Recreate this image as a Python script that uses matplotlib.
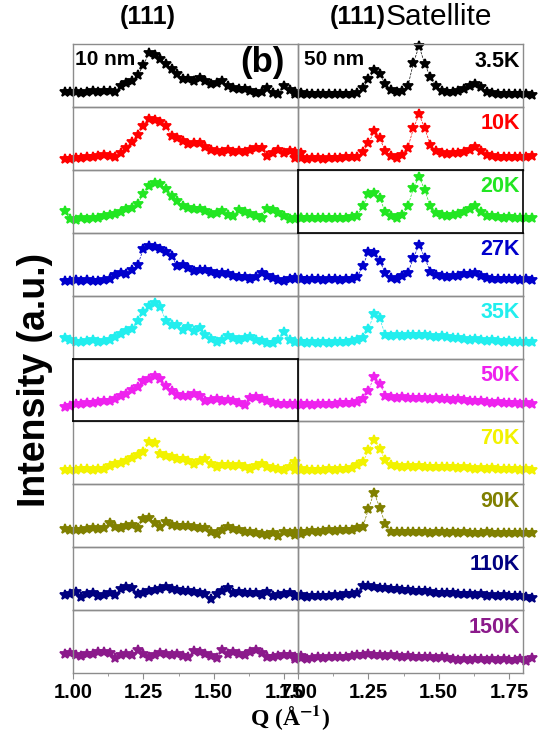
import matplotlib.pyplot as plt
from matplotlib.ticker import MultipleLocator, FormatStrFormatter

plt.rcParams['font.family'] = ['Liberation Sans', 'DejaVu Sans']
plt.rcParams['mathtext.fontset'] = 'stix'

temps = ['3.5K', '10K', '20K', '27K', '35K', '50K', '70K', '90K', '110K', '150K']
colors = ['#000000', '#ff0000', '#22e622', '#0000cc', '#22eeee',
          '#ee22ee', '#f2f200', '#808000', '#000080', '#8b1a8b']

# Q grid (1/A) for the 10 nm and 50 nm samples
q_left = [0.97, 0.99, 1.01, 1.03, 1.05, 1.07, 1.09, 1.11, 1.13, 1.15, 1.17,
          1.19, 1.21, 1.23, 1.25, 1.27, 1.29, 1.31, 1.33, 1.35, 1.37, 1.39,
          1.41, 1.43, 1.45, 1.47, 1.49, 1.51, 1.53, 1.55, 1.57, 1.59, 1.61,
          1.63, 1.65, 1.67, 1.69, 1.71, 1.73, 1.75, 1.77, 1.79, 1.81]
q_right = [0.99, 1.01, 1.03, 1.05, 1.07, 1.09, 1.11, 1.13, 1.15, 1.17, 1.19,
           1.21, 1.23, 1.25, 1.27, 1.29, 1.31, 1.33, 1.35, 1.37, 1.39, 1.41,
           1.43, 1.45, 1.47, 1.49, 1.51, 1.53, 1.55, 1.57, 1.59, 1.61, 1.63,
           1.65, 1.67, 1.69, 1.71, 1.73, 1.75, 1.77, 1.79, 1.81, 1.83]

# (111) intensities, 10 nm film (normalised per panel)
nm10_3p5K = [.23, .23, .23, .22, .24, .26, .24, .26, .25, .23, .33, .38, .42, .50, .66, .86, .82, .76, .68, .60, .52, .45,
             .44, .42, .46, .42, .36, .38, .41, .34, .30, .29, .28, .26, .22, .24, .30, .22, .21, .33, .27, .23, .22]
nm10_10K = [.18, .18, .19, .19, .20, .21, .22, .23, .22, .20, .27, .35, .44, .55, .70, .81, .80, .76, .70, .53, .50, .46,
            .41, .42, .42, .36, .32, .30, .29, .32, .29, .30, .29, .32, .34, .35, .22, .26, .31, .27, .30, .28, .27]
nm10_20K = [.34, .22, .21, .23, .22, .24, .23, .26, .28, .30, .33, .37, .40, .46, .62, .75, .79, .77, .70, .58, .50, .43,
            .39, .37, .37, .35, .30, .32, .34, .28, .27, .36, .33, .29, .26, .24, .37, .36, .32, .26, .22, .22, .23]
nm10_27K = [.24, .24, .25, .24, .25, .23, .24, .25, .26, .33, .36, .34, .40, .49, .74, .79, .77, .74, .70, .63, .47, .49,
            .44, .39, .40, .41, .38, .34, .36, .34, .32, .30, .29, .26, .30, .36, .32, .28, .25, .24, .27, .28, .27]
nm10_35K = [.32, .29, .27, .26, .28, .29, .27, .28, .30, .35, .39, .43, .47, .60, .74, .83, .89, .82, .60, .54, .53, .46,
            .50, .44, .48, .38, .31, .27, .30, .36, .33, .30, .32, .34, .30, .28, .25, .24, .30, .42, .30, .27, .26]
nm10_50K = [.23, .25, .27, .28, .29, .29, .31, .32, .33, .35, .40, .44, .50, .54, .64, .67, .73, .67, .56, .49, .42, .40,
            .41, .44, .40, .33, .34, .35, .33, .34, .32, .30, .26, .37, .39, .36, .32, .29, .27, .28, .27, .28, .28]
nm10_70K = [.22, .22, .23, .24, .24, .23, .24, .25, .29, .32, .34, .37, .42, .47, .51, .67, .66, .48, .45, .43, .41, .40,
            .37, .32, .37, .40, .33, .27, .30, .31, .29, .30, .27, .24, .29, .32, .28, .26, .25, .23, .28, .35, .24]
nm10_90K = [.29, .27, .28, .27, .29, .30, .29, .31, .39, .32, .30, .34, .35, .31, .45, .46, .38, .32, .40, .35, .34, .33,
            .33, .32, .31, .30, .25, .21, .28, .32, .29, .27, .25, .24, .22, .21, .19, .23, .18, .25, .22, .20, .21]
nm10_110K = [.24, .25, .29, .21, .26, .28, .22, .24, .27, .24, .33, .37, .35, .25, .28, .30, .32, .34, .36, .33, .32, .30,
             .31, .29, .28, .25, .18, .26, .30, .35, .27, .29, .28, .27, .28, .24, .29, .22, .24, .25, .27, .23, .24]
nm10_150K = [.31, .32, .29, .27, .30, .31, .33, .34, .32, .24, .28, .30, .29, .37, .31, .26, .29, .32, .31, .29, .30, .27,
             .25, .35, .33, .30, .27, .24, .36, .31, .33, .30, .28, .34, .37, .32, .26, .25, .27, .29, .28, .25, .27]

# (111) + satellite intensities, 50 nm film
nm50_3p5K = [.21, .21, .20, .21, .21, .20, .21, .21, .20, .21, .21, .22, .30, .44, .58, .52, .36, .27, .24, .25, .33, .70,
             .97, .68, .48, .33, .25, .23, .24, .26, .28, .33, .37, .31, .24, .22, .21, .21, .20, .21, .20, .21, .19]
nm50_10K = [.19, .19, .18, .19, .19, .18, .19, .19, .19, .20, .20, .21, .28, .42, .61, .50, .30, .22, .19, .24, .35, .66,
            .88, .66, .40, .30, .27, .25, .26, .27, .29, .31, .37, .30, .24, .22, .21, .20, .21, .20, .21, .20, .22]
nm50_20K = [.24, .23, .24, .23, .24, .23, .24, .24, .23, .24, .25, .27, .42, .62, .63, .55, .33, .26, .24, .28, .42, .71,
            .89, .68, .42, .32, .28, .27, .28, .30, .33, .37, .42, .33, .27, .26, .25, .24, .25, .24, .23, .24, .23]
nm50_27K = [.26, .26, .25, .26, .26, .25, .26, .26, .25, .26, .27, .29, .47, .70, .68, .55, .36, .28, .27, .32, .36, .60,
            .81, .60, .38, .33, .31, .30, .31, .32, .34, .35, .36, .31, .28, .27, .26, .27, .26, .26, .25, .26, .25]
nm50_35K = [.27, .26, .25, .26, .25, .26, .25, .26, .26, .27, .28, .29, .33, .47, .71, .64, .37, .36, .37, .36, .37, .38,
            .37, .38, .36, .35, .36, .34, .33, .32, .31, .30, .31, .29, .28, .29, .28, .27, .28, .27, .26, .27, .26]
nm50_50K = [.26, .26, .27, .26, .27, .28, .27, .28, .29, .29, .30, .31, .35, .49, .71, .60, .41, .39, .38, .39, .38, .37,
            .38, .37, .36, .37, .36, .35, .34, .35, .34, .33, .32, .33, .31, .30, .31, .29, .30, .29, .28, .29, .28]
nm50_70K = [.22, .23, .22, .23, .22, .23, .24, .23, .24, .25, .26, .30, .35, .54, .70, .56, .38, .31, .29, .28, .29, .28,
            .29, .28, .27, .28, .27, .28, .27, .26, .27, .26, .25, .26, .25, .26, .25, .24, .25, .24, .23, .24, .22]
nm50_90K = [.24, .25, .25, .26, .25, .26, .27, .26, .28, .27, .28, .31, .32, .61, .87, .63, .37, .24, .25, .24, .25, .24,
            .25, .24, .23, .24, .24, .23, .24, .23, .24, .23, .22, .23, .24, .23, .22, .23, .22, .23, .22, .23, .22]
nm50_110K = [.22, .22, .21, .22, .23, .22, .23, .24, .23, .25, .26, .28, .39, .38, .37, .35, .35, .34, .33, .32, .32, .31,
             .30, .30, .29, .28, .28, .27, .27, .26, .25, .25, .24, .25, .23, .24, .23, .24, .22, .23, .22, .21, .19]
nm50_150K = [.22, .24, .23, .24, .25, .24, .25, .26, .25, .26, .27, .28, .29, .30, .29, .28, .27, .28, .27, .26, .27, .26,
             .25, .26, .25, .24, .25, .24, .23, .21, .22, .21, .23, .22, .21, .22, .20, .22, .21, .20, .22, .19, .24]

left_rows = [nm10_3p5K, nm10_10K, nm10_20K, nm10_27K, nm10_35K,
             nm10_50K, nm10_70K, nm10_90K, nm10_110K, nm10_150K]
right_rows = [nm50_3p5K, nm50_10K, nm50_20K, nm50_27K, nm50_35K,
              nm50_50K, nm50_70K, nm50_90K, nm50_110K, nm50_150K]

fig, axes = plt.subplots(10, 2, figsize=(5.45, 7.40), dpi=100,
                         gridspec_kw=dict(hspace=0, wspace=0))
fig.subplots_adjust(left=0.134, right=0.96, top=0.9405, bottom=0.0905)

frame_gray = '#8c8c8c'
n_rows = len(temps)
for r in range(n_rows):
    for c, (q, rows) in enumerate([(q_left, left_rows), (q_right, right_rows)]):
        ax = axes[r, c]
        ax.plot(q, rows[r], linestyle='--', linewidth=0.5, color=colors[r],
                marker='*', markersize=7, markeredgewidth=1.3,
                markeredgecolor=colors[r], clip_on=False)
        ax.set_xlim(1.0, 1.8)
        ax.set_ylim(0, 1)
        ax.set_yticks([])
        ax.set_facecolor('none')
        for sp in ax.spines.values():
            sp.set_color(frame_gray)
            sp.set_linewidth(1.0)
        if r < n_rows - 1:
            ax.set_xticks([])
            ax.set_xticks([], minor=True)
        else:
            ax.xaxis.set_major_locator(MultipleLocator(0.25))
            ax.xaxis.set_minor_locator(MultipleLocator(0.125))
            ax.xaxis.set_major_formatter(FormatStrFormatter('%.2f'))
            ax.tick_params(axis='x', which='major', length=4, width=0.8,
                           color=frame_gray, labelsize=14.5, pad=3)
            ax.tick_params(axis='x', which='minor', length=2, width=0.6,
                           color=frame_gray)
            for lab in ax.get_xticklabels():
                lab.set_fontweight('bold')
    axes[r, 1].text(0.985, 0.73, temps[r], transform=axes[r, 1].transAxes,
                    ha='right', va='center', fontsize=15.5, fontweight='bold',
                    color=colors[r])

# highlighted panels
for ax in (axes[2, 1], axes[5, 0]):
    ax.set_zorder(3)
    for sp in ax.spines.values():
        sp.set_color('black')
        sp.set_linewidth(1.2)

axes[0, 0].text(0.01, 0.75, '10 nm', transform=axes[0, 0].transAxes,
                ha='left', va='center', fontsize=15, fontweight='bold')
axes[0, 1].text(0.025, 0.75, '50 nm', transform=axes[0, 1].transAxes,
                ha='left', va='center', fontsize=15, fontweight='bold')
axes[0, 0].text(0.84, 0.70, '(b)', transform=axes[0, 0].transAxes,
                ha='center', va='center', fontsize=25, fontweight='bold')

fig.text(0.272, 0.977, '(111)', ha='center', va='center', fontsize=18, fontweight='bold')
fig.text(0.708, 0.977, '(111)', ha='right', va='center', fontsize=18, fontweight='bold')
fig.text(0.708, 0.977, 'Satellite', ha='left', va='center', fontsize=21.5)

fig.text(0.064, 0.486, 'Intensity (a.u.)', rotation=90, ha='center', va='center',
         fontsize=27, fontweight='bold')
fig.text(0.532, 0.03, r'Q (Å$^{\mathbf{-1}}$)', ha='center', va='center',
         fontsize=17, fontweight='bold', family=['Liberation Serif', 'DejaVu Serif'])

fig.savefig('out.png', dpi=100)
